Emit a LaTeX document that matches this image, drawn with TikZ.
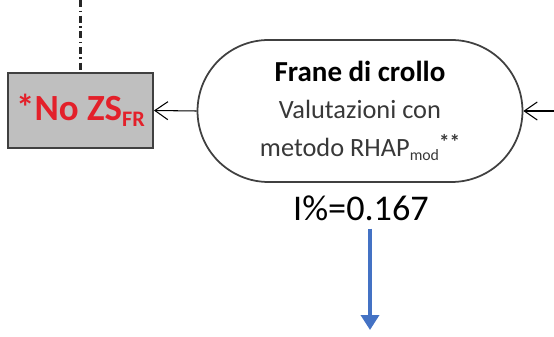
\documentclass[tikz,border=0pt]{standalone}
\usepackage{fontspec}
\setmainfont{Carlito}
\usetikzlibrary{arrows.meta}

\definecolor{grigio}{HTML}{BFBFBF}
\definecolor{bordo}{HTML}{404040}
\definecolor{rosso}{HTML}{E3202A}
\definecolor{blu}{HTML}{4472C4}

\newcommand{\pedice}[1]{\raisebox{-0.35ex}{\fontsize{0.6em}{1em}\selectfont #1}}
\newcommand{\apice}[1]{\raisebox{0.55ex}{\fontsize{0.8em}{1em}\selectfont\bfseries #1}}

\tikzset{
  scatola/.style={draw=bordo, line width=1.1pt, fill=grigio, minimum width=2.9cm, minimum height=1.5cm,
    text=rosso, font=\fontsize{21}{24}\selectfont\bfseries},
  stadio/.style={draw=bordo, line width=1pt, rounded corners=1.42cm, minimum width=6.5cm, minimum height=2.84cm,
    align=center, font=\fontsize{15}{21.3}\selectfont, text=black!78},
  freccia/.style={-{Straight Barb[length=2.6mm,width=3.6mm]}, line width=0.6pt},
}

\begin{document}
\begin{tikzpicture}[x=0.02cm,y=-0.02cm]
\useasboundingbox (0,0) rectangle (554,337);

%% nodi
   \node [scatola] (nozs) at (80.5,110.5) {*No ZS\pedice{FR}};
   \node [stadio] (frane) at (360,111) {{\fontsize{16.5}{21.3}\selectfont\bfseries\color{black} Frane di crollo}\\Valutazioni con\\metodo RHAP\pedice{mod}\apice{**}};
   \node [font=\fontsize{20.6}{24}\selectfont] (indice) at (361,208) {I\%=0.167};

   \coordinate (alto) at (80.5,0);
   \coordinate (ingresso) at (554,111);
   \coordinate (fine) at (370,330);

%% collegamenti
   \draw [black!85, line width=1.2pt, dash pattern=on 4pt off 2pt on 0.9pt off 2pt] (alto) -- (nozs.north);
   \path [freccia] (frane.west) edge (nozs.east);
   \path [freccia] (ingresso) edge (frane.east);
   \draw [blu, line width=2pt, -{Triangle[width=3.6mm,length=3mm]}] (indice.south -| fine) ++(0,2) -- (fine);

\end{tikzpicture}
\end{document}
